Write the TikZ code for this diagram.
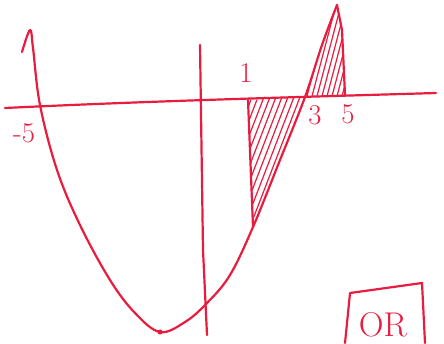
\documentclass[tikz,border=0pt]{standalone}
\usepackage{xcolor}
\usepackage{tikz}
\usetikzlibrary{calc}

\definecolor{pen}{RGB}{232,28,62}

\begin{document}
\begin{tikzpicture}[
  x=1pt, y=-1pt,
  ink/.style={draw=pen, line width=2.2pt, line cap=round, line join=round},
  hatch/.style={draw=pen, line width=1.2pt},
  lbl/.style={text=pen, font=\Huge, inner sep=0pt, scale=1.15}
]
\useasboundingbox (0,0) rectangle (444,343);

% axes
\draw[ink] (5,108) .. controls (150,101) and (300,97) .. (436,93);
\draw[ink] (200,45) -- (203,250) -- (207,335);

% parabola
\draw[ink] plot[smooth, tension=0.6] coordinates {(22,52) (30,30) (33,48) (40,105) (57,170) (80,225)
  (110,280) (135,313) (160,332) (185,322) (207,303) (230,275) (253,227) (280,160) (305,97) (322,45) (337,5)};
\draw[ink] (337,5) -- (342,30) -- (345,95);
\fill[pen] (160,332) circle (2.5pt);

% shaded parts
\draw[ink] (248,100) -- (253,227);
\begin{scope}
  \clip (248,100) -- (253,227) -- (280,160) -- (305,97) -- cycle;
  \foreach \i in {-10,...,14}
    \draw[hatch] ($(236,232)+(6*\i,0)$) -- ++(52,-135);
\end{scope}
\begin{scope}
  \clip (305,97) -- (322,45) -- (337,5) -- (342,30) -- (345,95) -- cycle;
  \foreach \i in {-4,...,10}
    \draw[hatch] ($(296,100)+(5*\i,0)$) -- ++(25,-95);
\end{scope}

% labels
\node[lbl] (lbl-one) at (246,73) {1};
\node[lbl] (lbl-mfive) at (24,133) {-5};
\node[lbl] (lbl-three) at (315,115) {3};
\node[lbl] (lbl-five) at (348,114) {5};

% answer box
\draw[ink] (345,343) -- (350,293) -- (422,283) -- (425,343);
\node[lbl, scale=1.2] (ans) at (383,325) {OR};
\end{tikzpicture}
\end{document}
